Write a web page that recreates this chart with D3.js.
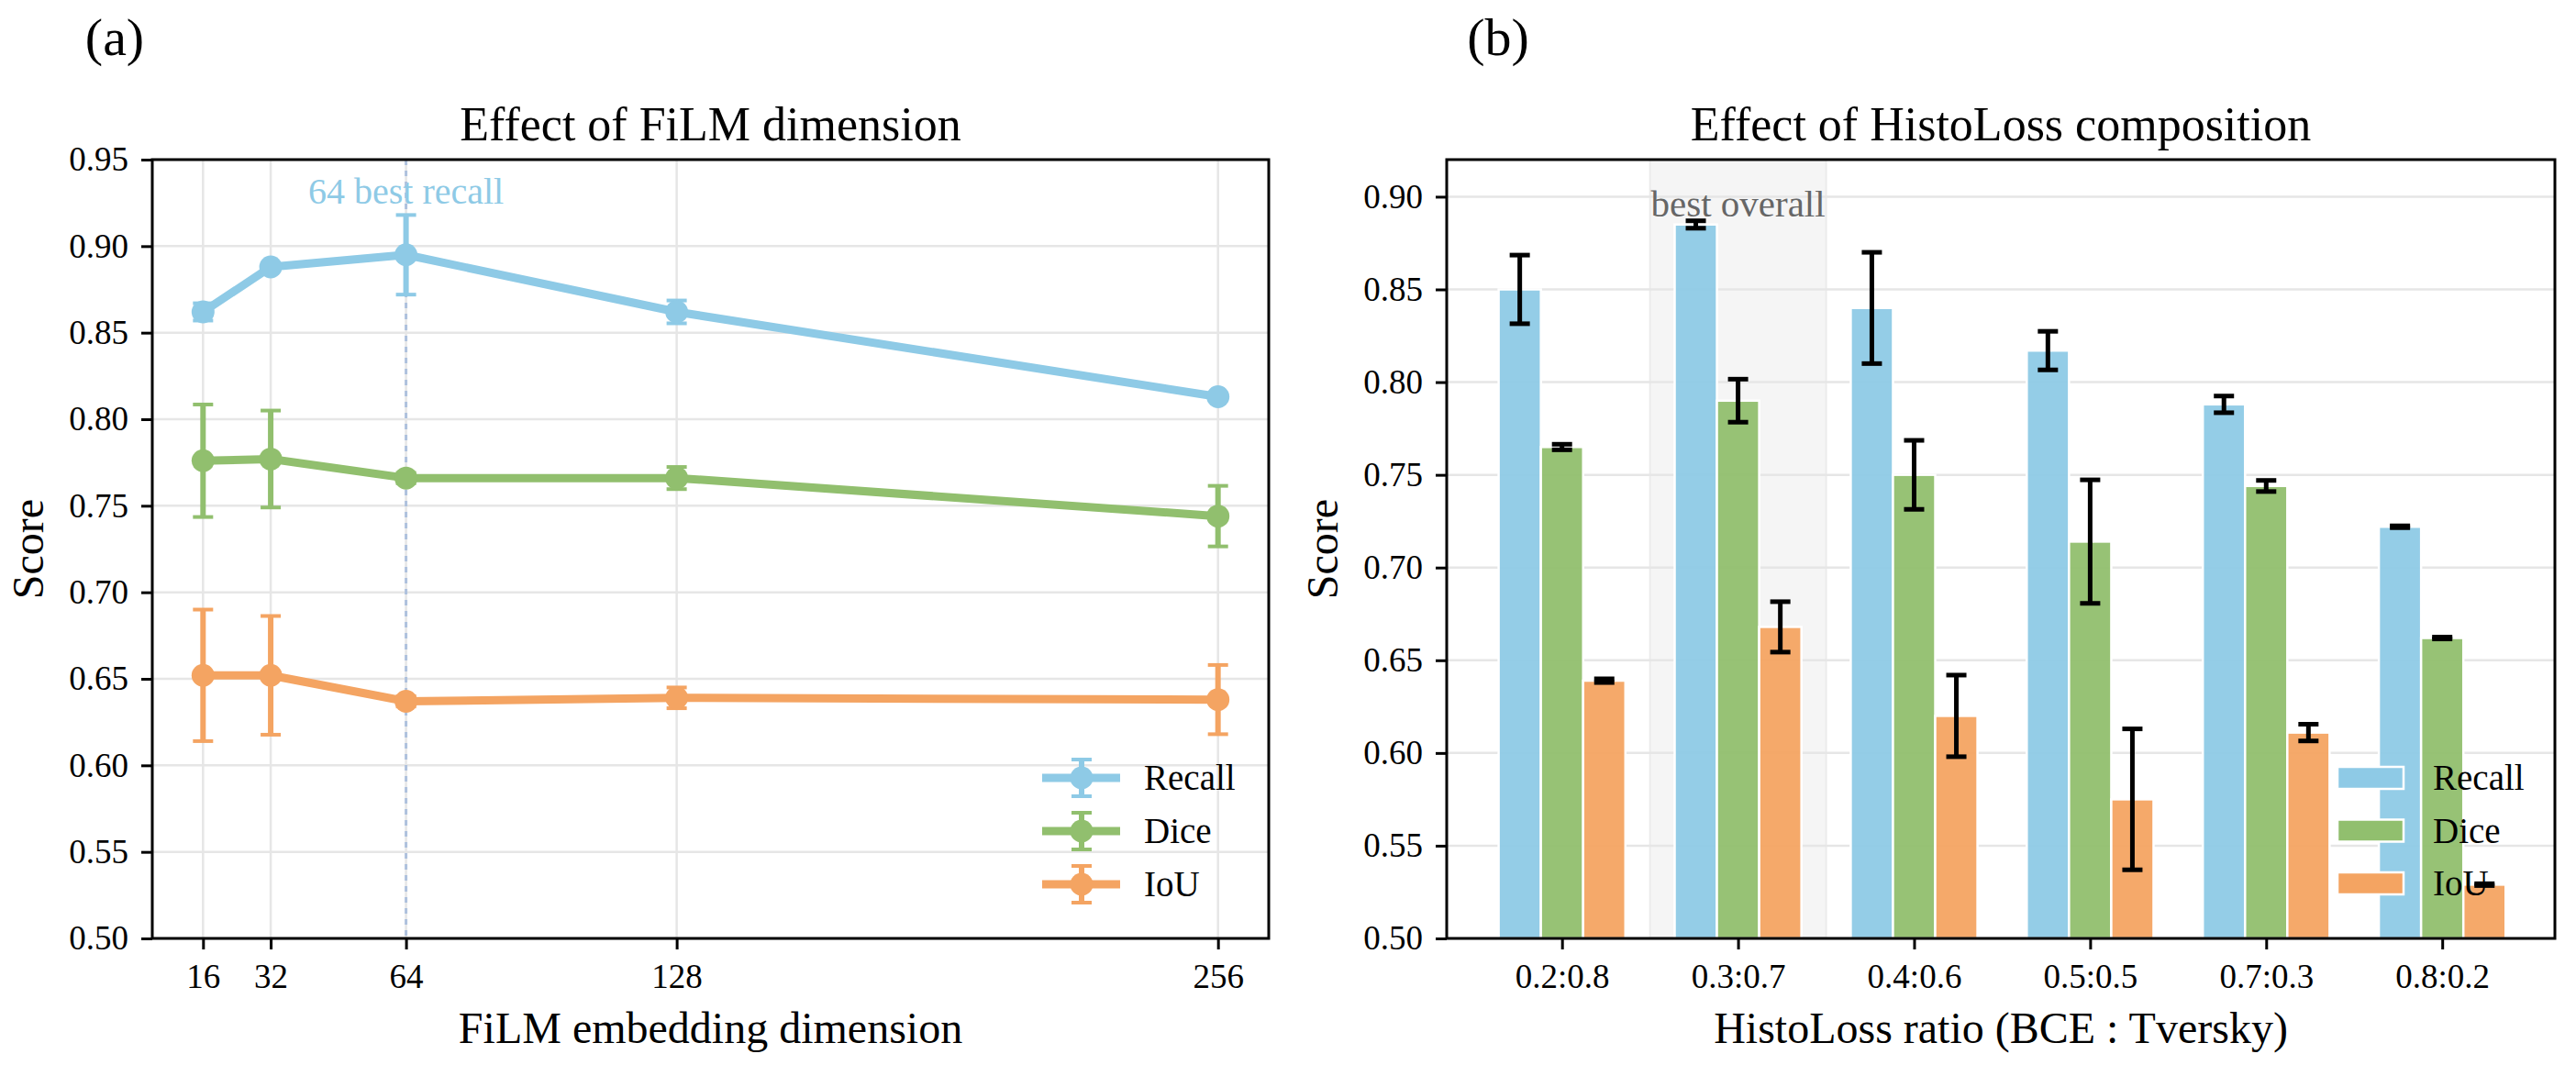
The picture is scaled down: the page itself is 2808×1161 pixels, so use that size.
<!DOCTYPE html>
<html>
<head>
<meta charset="utf-8">
<script src="https://cdn.jsdelivr.net/npm/d3@7"></script>
<style>
  body { margin: 0; background: #fff; }
  svg text { font-family: "Liberation Serif", "DejaVu Serif", serif; fill: #000; }
</style>
</head>
<body>
<div id="chart"></div>
<script>
// ---- data: panel (a) FiLM dimension ----
const filmDims = [16, 32, 64, 128, 256];
const filmRecall = [0.862, 0.888, 0.895, 0.862, 0.813];
const filmRecallStd = [0.005, 0.002, 0.023, 0.0066, 0.002];
const filmDice = [0.776, 0.777, 0.766, 0.766, 0.744];
const filmDiceStd = [0.0325, 0.028, 0.003, 0.0064, 0.0175];
const filmIou = [0.652, 0.652, 0.637, 0.639, 0.638];
const filmIouStd = [0.038, 0.0343, 0.003, 0.006, 0.02];
const filmYTicks = [0.50, 0.55, 0.60, 0.65, 0.70, 0.75, 0.80, 0.85, 0.90, 0.95];

// ---- data: panel (b) HistoLoss ratio ----
const ratios = ["0.2:0.8", "0.3:0.7", "0.4:0.6", "0.5:0.5", "0.7:0.3", "0.8:0.2"];
const ratioRecall = [0.850, 0.885, 0.840, 0.817, 0.788, 0.722];
const ratioRecallStd = [0.0185, 0.002, 0.030, 0.0104, 0.0045, 0.0005];
const ratioDice = [0.765, 0.790, 0.750, 0.714, 0.744, 0.662];
const ratioDiceStd = [0.0015, 0.0116, 0.0186, 0.0333, 0.003, 0.0005];
const ratioIou = [0.639, 0.668, 0.620, 0.575, 0.611, 0.529];
const ratioIouStd = [0.001, 0.0136, 0.022, 0.038, 0.0045, 0.0005];
const ratioYTicks = [0.50, 0.55, 0.60, 0.65, 0.70, 0.75, 0.80, 0.85, 0.90];

const colors = { recall: "#8ecae6", dice: "#91bf6e", iou: "#f4a462" };

const W = 2808, H = 1161;
const plotTop = 174, plotBottom = 1023;
const gridColor = "#e6e6e6";
const serif = '"Liberation Serif", "DejaVu Serif", serif';

const svg = d3.select("#chart").append("svg")
    .attr("width", W)
    .attr("height", H)
    .attr("font-family", serif);

drawFilm();
drawRatio();

function styleAxis(g) {
    g.attr("font-family", serif);
    g.select(".domain").remove();
    g.selectAll(".tick line").attr("stroke", "#000").attr("stroke-width", 3);
    g.selectAll(".tick text")
        .style("font-family", serif)
        .style("font-size", "37px")
        .attr("fill", "#000");
}

function drawFilm() {
    const left = 166, right = 1383;
    const x = d3.scaleLinear().domain([4, 268]).range([left, right]);
    const y = d3.scaleLinear().domain([0.5, 0.95]).range([plotBottom, plotTop]);
    const g = svg.append("g");

    const series = [
        { name: "Recall", values: filmRecall, std: filmRecallStd, color: colors.recall },
        { name: "Dice", values: filmDice, std: filmDiceStd, color: colors.dice },
        { name: "IoU", values: filmIou, std: filmIouStd, color: colors.iou }
    ];

    // grid
    g.append("g").selectAll("line").data(filmYTicks).enter().append("line")
        .attr("x1", left).attr("x2", right)
        .attr("y1", d => y(d)).attr("y2", d => y(d))
        .attr("stroke", gridColor).attr("stroke-width", 2.5);
    g.append("g").selectAll("line").data(filmDims).enter().append("line")
        .attr("y1", plotTop).attr("y2", plotBottom)
        .attr("x1", d => x(d)).attr("x2", d => x(d))
        .attr("stroke", gridColor).attr("stroke-width", 2.5);

    // best recall marker line
    g.append("line")
        .attr("x1", x(64)).attr("x2", x(64))
        .attr("y1", plotTop).attr("y2", plotBottom)
        .attr("stroke", "#aec1dd").attr("stroke-width", 3)
        .attr("stroke-dasharray", "6,6");
    g.append("text")
        .attr("x", x(64)).attr("y", 222)
        .attr("text-anchor", "middle")
        .style("font-size", "40px")
        .style("fill", colors.recall)
        .text("64 best recall");

    const line = d3.line().x(d => x(d[0])).y(d => y(d[1]));
    series.forEach(s => {
        const pts = filmDims.map((d, i) => [d, s.values[i], s.std[i]]);
        const sg = g.append("g");
        // error bars
        sg.selectAll(".eb").data(pts).enter().append("line")
            .attr("x1", d => x(d[0])).attr("x2", d => x(d[0]))
            .attr("y1", d => y(d[1] - d[2])).attr("y2", d => y(d[1] + d[2]))
            .attr("stroke", s.color).attr("stroke-width", 6);
        [-1, 1].forEach(sign => {
            sg.selectAll(".cap" + sign).data(pts).enter().append("line")
                .attr("x1", d => x(d[0]) - 11).attr("x2", d => x(d[0]) + 11)
                .attr("y1", d => y(d[1] + sign * d[2])).attr("y2", d => y(d[1] + sign * d[2]))
                .attr("stroke", s.color).attr("stroke-width", 4);
        });
        sg.append("path").datum(pts)
            .attr("d", line)
            .attr("fill", "none")
            .attr("stroke", s.color)
            .attr("stroke-width", 9)
            .attr("stroke-linejoin", "round");
        sg.selectAll("circle").data(pts).enter().append("circle")
            .attr("cx", d => x(d[0])).attr("cy", d => y(d[1]))
            .attr("r", 12.5).attr("fill", s.color);
    });

    // legend
    const lg = g.append("g");
    series.forEach((s, i) => {
        const ly = 848 + i * 58;
        lg.append("line").attr("x1", 1136).attr("x2", 1221).attr("y1", ly).attr("y2", ly)
            .attr("stroke", s.color).attr("stroke-width", 9);
        lg.append("line").attr("x1", 1179).attr("x2", 1179).attr("y1", ly - 20).attr("y2", ly + 20)
            .attr("stroke", s.color).attr("stroke-width", 6);
        [-20, 20].forEach(o => lg.append("line")
            .attr("x1", 1168).attr("x2", 1190).attr("y1", ly + o).attr("y2", ly + o)
            .attr("stroke", s.color).attr("stroke-width", 4));
        lg.append("circle").attr("cx", 1179).attr("cy", ly).attr("r", 12.5).attr("fill", s.color);
        lg.append("text").attr("x", 1247).attr("y", ly + 13)
            .style("font-size", "39px").text(s.name);
    });

    // axes
    g.append("g").attr("transform", `translate(0,${plotBottom})`)
        .call(d3.axisBottom(x).tickValues(filmDims).tickSize(12).tickPadding(16).tickSizeOuter(0))
        .call(styleAxis);
    g.append("g").attr("transform", `translate(${left},0)`)
        .call(d3.axisLeft(y).tickValues(filmYTicks).tickFormat(d3.format(".2f"))
            .tickSize(12).tickPadding(14).tickSizeOuter(0))
        .call(styleAxis);
    g.append("rect").attr("x", left).attr("y", plotTop)
        .attr("width", right - left).attr("height", plotBottom - plotTop)
        .attr("fill", "none").attr("stroke", "#000").attr("stroke-width", 3);

    // labels
    g.append("text").attr("x", (left + right) / 2).attr("y", 153)
        .attr("text-anchor", "middle").style("font-size", "52px")
        .text("Effect of FiLM dimension");
    g.append("text").attr("x", (left + right) / 2).attr("y", 1137)
        .attr("text-anchor", "middle").style("font-size", "48px")
        .text("FiLM embedding dimension");
    g.append("text")
        .attr("transform", `translate(47,${(plotTop + plotBottom) / 2}) rotate(-90)`)
        .attr("text-anchor", "middle").style("font-size", "48px")
        .text("Score");
    g.append("text").attr("x", 125).attr("y", 60)
        .attr("text-anchor", "middle").style("font-size", "58px")
        .text("(a)");
}

function drawRatio() {
    const left = 1577, right = 2785;
    const x = d3.scaleLinear().domain([-0.655, 5.64]).range([left, right]);
    const y = d3.scaleLinear().domain([0.5, 0.92]).range([plotBottom, plotTop]);
    const g = svg.append("g");
    const unit = x(1) - x(0);
    const barW = 0.24 * unit;

    const series = [
        { name: "Recall", values: ratioRecall, std: ratioRecallStd, color: colors.recall, off: -0.24 },
        { name: "Dice", values: ratioDice, std: ratioDiceStd, color: colors.dice, off: 0 },
        { name: "IoU", values: ratioIou, std: ratioIouStd, color: colors.iou, off: 0.24 }
    ];

    // highlight band for best ratio
    g.append("rect")
        .attr("x", x(0.5)).attr("y", plotTop)
        .attr("width", x(1.5) - x(0.5)).attr("height", plotBottom - plotTop)
        .attr("fill", "#f5f5f5").attr("stroke", "#ebebeb").attr("stroke-width", 2);

    // grid
    g.append("g").selectAll("line").data(ratioYTicks).enter().append("line")
        .attr("x1", left).attr("x2", right)
        .attr("y1", d => y(d)).attr("y2", d => y(d))
        .attr("stroke", gridColor).attr("stroke-width", 2.5);

    g.append("text")
        .attr("x", x(1)).attr("y", 236)
        .attr("text-anchor", "middle")
        .style("font-size", "41px")
        .style("fill", "#666")
        .text("best overall");

    // bars
    series.forEach(s => {
        g.append("g").selectAll("rect").data(ratios).enter().append("rect")
            .attr("x", (d, i) => x(i + s.off) - barW / 2)
            .attr("y", (d, i) => y(s.values[i]))
            .attr("width", barW)
            .attr("height", (d, i) => y(0.5) - y(s.values[i]))
            .attr("fill", s.color)
            .attr("fill-opacity", 0.95)
            .attr("stroke", "#fff")
            .attr("stroke-width", 2.5);
    });

    // legend
    const lg = g.append("g");
    series.forEach((s, i) => {
        const ly = 848 + i * 57.5;
        lg.append("rect").attr("x", 2548).attr("y", ly - 12)
            .attr("width", 72).attr("height", 24)
            .attr("fill", s.color).attr("stroke", "#fff").attr("stroke-width", 2.5);
        lg.append("text").attr("x", 2652).attr("y", ly + 13)
            .style("font-size", "39px").text(s.name);
    });

    // error bars
    series.forEach(s => {
        const eg = g.append("g");
        ratios.forEach((r, i) => {
            const cx = x(i + s.off);
            const lo = y(s.values[i] - s.std[i]);
            const hi = y(s.values[i] + s.std[i]);
            eg.append("line").attr("x1", cx).attr("x2", cx).attr("y1", lo).attr("y2", hi)
                .attr("stroke", "#000").attr("stroke-width", 5);
            [lo, hi].forEach(cy => eg.append("line")
                .attr("x1", cx - 11).attr("x2", cx + 11).attr("y1", cy).attr("y2", cy)
                .attr("stroke", "#000").attr("stroke-width", 5));
        });
    });

    // axes
    g.append("g").attr("transform", `translate(0,${plotBottom})`)
        .call(d3.axisBottom(x).tickValues(d3.range(ratios.length))
            .tickFormat(i => ratios[i]).tickSize(12).tickPadding(16).tickSizeOuter(0))
        .call(styleAxis);
    g.append("g").attr("transform", `translate(${left},0)`)
        .call(d3.axisLeft(y).tickValues(ratioYTicks).tickFormat(d3.format(".2f"))
            .tickSize(12).tickPadding(14).tickSizeOuter(0))
        .call(styleAxis);
    g.append("rect").attr("x", left).attr("y", plotTop)
        .attr("width", right - left).attr("height", plotBottom - plotTop)
        .attr("fill", "none").attr("stroke", "#000").attr("stroke-width", 3);

    // labels
    g.append("text").attr("x", (left + right) / 2).attr("y", 153)
        .attr("text-anchor", "middle").style("font-size", "52px")
        .text("Effect of HistoLoss composition");
    g.append("text").attr("x", (left + right) / 2).attr("y", 1137)
        .attr("text-anchor", "middle").style("font-size", "48px")
        .text("HistoLoss ratio (BCE : Tversky)");
    g.append("text")
        .attr("transform", `translate(1458,${(plotTop + plotBottom) / 2}) rotate(-90)`)
        .attr("text-anchor", "middle").style("font-size", "48px")
        .text("Score");
    g.append("text").attr("x", 1633).attr("y", 60)
        .attr("text-anchor", "middle").style("font-size", "58px")
        .text("(b)");
}
</script>
</body>
</html>
